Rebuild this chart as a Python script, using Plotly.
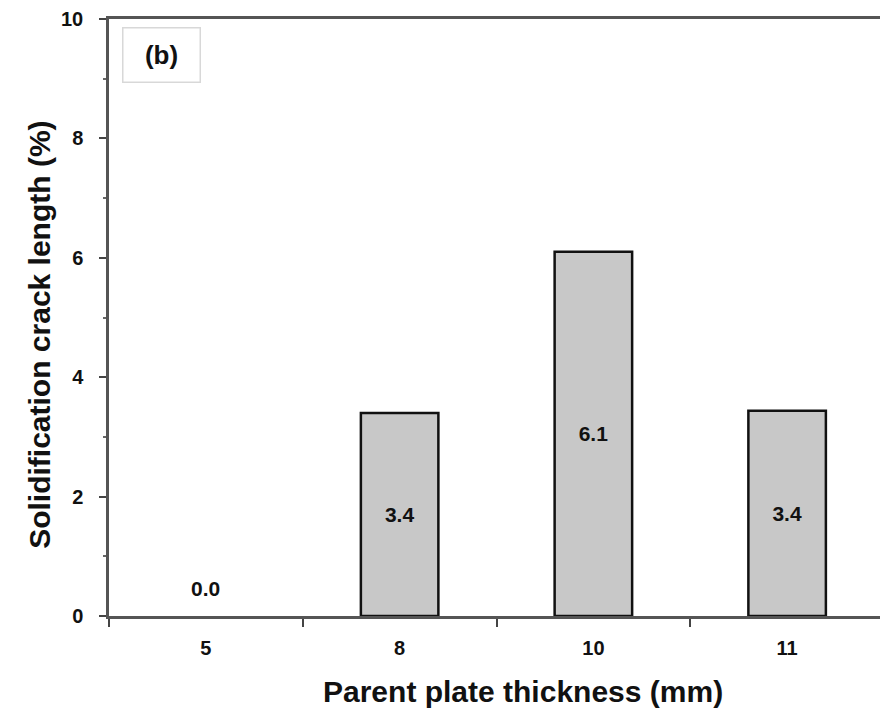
import plotly.graph_objects as go

categories = ["5", "8", "10", "11"]
crack_length = [0.0, 3.4, 6.1, 3.44]
y_ticks = [0, 2, 4, 6, 8, 10]
y_minor_ticks = [1, 3, 5, 7, 9]
panel_label = "(b)"
x_title = "Parent plate thickness (mm)"
y_title = "Solidification crack length (%)"

labels = [f"{v:.1f}" for v in crack_length]
positions = ["none" if v == 0 else "inside" for v in crack_length]
line_widths = [0 if v == 0 else 2.5 for v in crack_length]

fig = go.Figure()
fig.add_trace(go.Bar(
    x=categories, y=crack_length, width=0.4,
    marker=dict(color="#c8c8c8", line=dict(color="#111111", width=line_widths)),
    text=labels,
    textposition=positions, insidetextanchor="middle",
    textfont=dict(family="Liberation Sans", size=21, color="#111111", weight="bold"),
    cliponaxis=False,
))

annotations = [
    dict(
        text=panel_label, xref="paper", yref="paper", x=0.017, y=0.987,
        xanchor="left", yanchor="top", showarrow=False, align="center",
        width=56, height=33,
        font=dict(size=26, weight="bold", color="#111"),
        bordercolor="#d8d8d8", borderwidth=1.5, borderpad=10, bgcolor="white",
    ),
    dict(
        text=x_title, xref="paper", yref="paper", x=0.534, y=-0.127,
        xanchor="center", yanchor="middle", showarrow=False,
        font=dict(size=30, weight="bold", color="#111"),
    ),
    dict(
        text=y_title, xref="paper", yref="paper", x=-0.089, y=0.471,
        xanchor="center", yanchor="middle", showarrow=False, textangle=-90,
        font=dict(size=30, weight="bold", color="#111"),
    ),
]
for i, (v, t) in enumerate(zip(crack_length, labels)):
    if v == 0:
        annotations.append(dict(
            x=i, y=v, xref="x", yref="y", text=t, showarrow=False,
            yanchor="bottom", yshift=14,
            font=dict(size=21, weight="bold", color="#111"),
        ))

fig.update_layout(
    width=880, height=709,
    margin=dict(l=101, r=4, t=11, b=101),
    plot_bgcolor="white", paper_bgcolor="white",
    showlegend=False,
    font=dict(family="Liberation Sans", color="#111111"),
    xaxis=dict(
        type="category", tickson="boundaries", ticks="outside", ticklen=8,
        tickcolor="#444", tickwidth=1.5, ticklabelstandoff=12,
        showline=True, linecolor="#555", linewidth=2.5, mirror=True,
        tickfont=dict(size=20, weight="bold"),
        showgrid=False, automargin=False,
    ),
    yaxis=dict(
        range=[0, 10], tickvals=y_ticks, ticks="outside", ticklen=7,
        tickcolor="#444", tickwidth=1.5, ticklabelstandoff=12,
        ticklabeloverflow="allow",
        minor=dict(tickvals=y_minor_ticks, ticks="outside", ticklen=3, tickcolor="#666"),
        showline=True, linecolor="#555", linewidth=2.5, mirror=True,
        tickfont=dict(size=20, weight="bold"),
        showgrid=False, zeroline=False, automargin=False,
    ),
    annotations=annotations,
)

fig.write_html("out.html")
